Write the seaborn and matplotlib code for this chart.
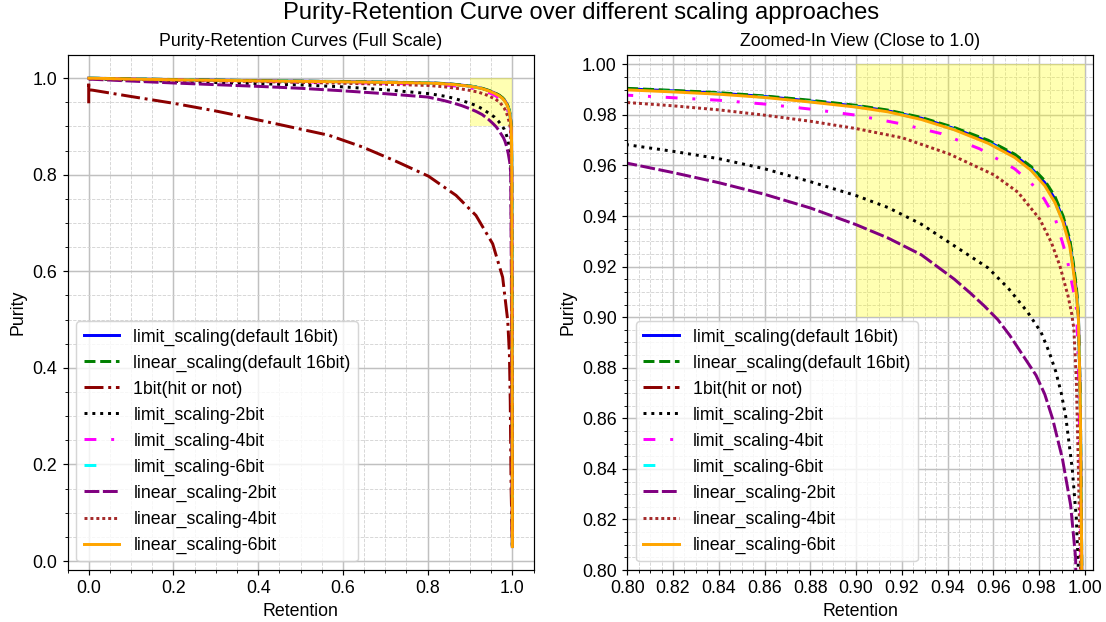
import matplotlib
matplotlib.use("Agg")
import matplotlib.pyplot as plt
import seaborn as sns
import pandas as pd

plt.rcParams['font.family'] = ['Liberation Sans', 'DejaVu Sans']

# ---------------- data ----------------
series_names = [
    "limit_scaling(default 16bit)",
    "linear_scaling(default 16bit)",
    "1bit(hit or not)",
    "limit_scaling-2bit",
    "limit_scaling-4bit",
    "limit_scaling-6bit",
    "linear_scaling-2bit",
    "linear_scaling-4bit",
    "linear_scaling-6bit",
]

ret_16bit = [0.0, 0.1, 0.2, 0.3, 0.4, 0.5, 0.6, 0.7, 0.8, 0.82, 0.84, 0.86, 0.88, 0.9,
             0.914, 0.9285, 0.943, 0.9577, 0.9693, 0.9766, 0.9825, 0.9869, 0.9905,
             0.9934, 0.9949, 0.9964, 0.9972, 0.998, 0.9987, 0.9993, 0.9997, 1.0]
pur_linear16 = [1.0, 0.9986, 0.9972, 0.9960, 0.9949, 0.9939, 0.9929, 0.9918, 0.9905,
                0.9897, 0.9888, 0.9875, 0.9858, 0.9838, 0.9819, 0.9790, 0.9750, 0.9700,
                0.9645, 0.9595, 0.9540, 0.9478, 0.9400, 0.9310, 0.9220, 0.9110, 0.9010,
                0.8700, 0.8000, 0.5000, 0.2000, 0.0300]
pur_limit16 = [1.0, 0.9984, 0.9970, 0.9958, 0.9947, 0.9937, 0.9927, 0.9916, 0.9903,
               0.9895, 0.9886, 0.9873, 0.9855, 0.9835, 0.9816, 0.9787, 0.9746, 0.9695,
               0.9640, 0.9589, 0.9532, 0.9468, 0.9389, 0.9297, 0.9206, 0.9098, 0.9002,
               0.8690, 0.7990, 0.5000, 0.2000, 0.0300]
pur_linear6 = [1.0, 0.9982, 0.9967, 0.9955, 0.9944, 0.9934, 0.9924, 0.9912, 0.9899,
               0.9891, 0.9882, 0.9869, 0.9851, 0.9831, 0.9812, 0.9782, 0.9741, 0.9688,
               0.9632, 0.9580, 0.9520, 0.9454, 0.9375, 0.9282, 0.9190, 0.9084, 0.8995,
               0.8680, 0.7980, 0.5000, 0.2000, 0.0300]
pur_limit6 = [1.0, 0.9983, 0.9968, 0.9956, 0.9945, 0.9935, 0.9925, 0.9913, 0.9900,
              0.9892, 0.9883, 0.9870, 0.9852, 0.9832, 0.9813, 0.9783, 0.9742, 0.9690,
              0.9634, 0.9582, 0.9522, 0.9456, 0.9378, 0.9285, 0.9193, 0.9087, 0.8998,
              0.8685, 0.7985, 0.5000, 0.2000, 0.0300]

ret_limit4 = [0.0, 0.1, 0.2, 0.3, 0.4, 0.5, 0.6, 0.7, 0.8, 0.82, 0.84, 0.86, 0.88, 0.9,
              0.919, 0.9372, 0.954, 0.9693, 0.9766, 0.9822, 0.9869, 0.992, 0.9949,
              0.9964, 0.9972, 0.998, 0.9987, 0.9993, 0.9997, 1.0]
pur_limit4 = [0.9995, 0.998, 0.9965, 0.995, 0.9937, 0.9923, 0.9909, 0.9894, 0.9878,
              0.9868, 0.9858, 0.9843, 0.9823, 0.9799, 0.9766, 0.9726, 0.9666, 0.9587,
              0.953, 0.9468, 0.9395, 0.9242, 0.911, 0.903, 0.88, 0.84, 0.75, 0.5, 0.2, 0.03]

ret_linear4 = [0.0, 0.1, 0.2, 0.3, 0.4, 0.5, 0.6, 0.7, 0.8, 0.82, 0.84, 0.86, 0.88, 0.9,
               0.9204, 0.9406, 0.9603, 0.9708, 0.9803, 0.9854, 0.9891, 0.9927, 0.9942,
               0.9952, 0.9963, 0.9971, 0.9977, 0.9981, 0.9988, 0.9994, 1.0]
pur_linear4 = [0.999, 0.9975, 0.996, 0.9945, 0.993, 0.9913, 0.9895, 0.9873, 0.9849,
               0.9836, 0.9820, 0.9799, 0.9775, 0.9746, 0.9709, 0.9646, 0.9563, 0.9494,
               0.9388, 0.9295, 0.9203, 0.9083, 0.9017, 0.8955, 0.875, 0.8441, 0.8178,
               0.8007, 0.6, 0.3, 0.03]

ret_limit2 = [0.0, 0.1, 0.2, 0.3, 0.4, 0.5, 0.6, 0.7, 0.8, 0.82, 0.84, 0.86, 0.88, 0.9,
              0.9139, 0.9285, 0.943, 0.9577, 0.9665, 0.975, 0.9809, 0.9845, 0.9873,
              0.9897, 0.9917, 0.9945, 0.9963, 0.9971, 0.9982, 0.999, 1.0]
pur_limit2 = [0.999, 0.996, 0.9935, 0.991, 0.9885, 0.986, 0.982, 0.976, 0.9682, 0.9656,
              0.9627, 0.9587, 0.9536, 0.9481, 0.9434, 0.9368, 0.9282, 0.9195, 0.9115,
              0.902, 0.894, 0.886, 0.8785, 0.870, 0.8605, 0.8401, 0.8204, 0.802, 0.6,
              0.3, 0.03]

ret_linear2 = [0.0, 0.1, 0.2, 0.3, 0.4, 0.5, 0.6, 0.7, 0.8, 0.82, 0.84, 0.86, 0.88, 0.9,
               0.914, 0.9285, 0.943, 0.95, 0.956, 0.962, 0.9672, 0.9787, 0.9825, 0.9859,
               0.9902, 0.9938, 0.996, 0.9975, 0.9988, 1.0]
pur_linear2 = [0.998, 0.994, 0.990, 0.9865, 0.983, 0.979, 0.9738, 0.9678, 0.9609, 0.9572,
               0.9532, 0.9486, 0.9432, 0.9366, 0.9313, 0.9247, 0.915, 0.9095, 0.9045,
               0.899, 0.8928, 0.877, 0.8695, 0.8599, 0.8441, 0.8257, 0.8046, 0.6, 0.3,
               0.03]

ret_1bit = [0.0, 0.0, 0.0, 0.01, 0.1, 0.2, 0.3, 0.355, 0.45, 0.567, 0.646, 0.725, 0.802,
            0.867, 0.914, 0.9535, 0.977, 0.989, 0.993, 0.995, 0.997, 1.0]
pur_1bit = [0.948, 0.993, 0.976, 0.975, 0.962, 0.948, 0.932, 0.922, 0.904, 0.8817,
            0.8575, 0.828, 0.797, 0.7573, 0.7158, 0.657, 0.5878, 0.498, 0.429, 0.33,
            0.15, 0.03]

series_x = [ret_16bit, ret_16bit, ret_1bit, ret_limit2, ret_limit4, ret_16bit,
            ret_linear2, ret_linear4, ret_16bit]
series_y = [pur_limit16, pur_linear16, pur_1bit, pur_limit2, pur_limit4, pur_limit6,
            pur_linear2, pur_linear4, pur_linear6]

colors = ["blue", "green", "darkred", "black", "magenta", "cyan", "purple", "brown", "orange"]
styles = ["-", "--", "-.", ":", (0, (4, 5, 1, 5)), (0, (4, 12)), (0, (5, 1.2)),
          (0, (1, 1)), "-"]

zoom_box = (0.9, 1.0, 0.9, 1.0)

# ---------------- figure ----------------
scale = 1.067
fig, (ax1, ax2) = plt.subplots(1, 2, figsize=(11.07 / scale, 6.22 / scale),
                               dpi=100 * scale)
fig.subplots_adjust(left=0.061, right=0.9876, bottom=0.0836, top=0.912, wspace=0.201)

for ax in (ax1, ax2):
    for name, xs, ys, c, ls in zip(series_names, series_x, series_y, colors, styles):
        df = pd.DataFrame({"Retention": xs, "Purity": ys})
        sns.lineplot(data=df, x="Retention", y="Purity", ax=ax, color=c,
                     linestyle=ls, linewidth=2, label=name, sort=False,
                     estimator=None)
    x0, x1, y0, y1 = zoom_box
    ax.fill_between([x0, x1], y0, y1, color="yellow", alpha=0.3, linewidth=0, zorder=1)
    ax.set_axisbelow(True)
    ax.minorticks_on()
    ax.grid(which="major", linestyle="-", linewidth=1.0, color="#c0c0c0")
    ax.grid(which="minor", linestyle="--", linewidth=0.6, color="#d4d4d4")
    ax.set_xlabel("Retention", fontsize=12)
    ax.set_ylabel("Purity", fontsize=12)
    ax.tick_params(labelsize=12)
    ax.legend(loc="lower left", fontsize=12)

ax1.set_title("Purity-Retention Curves (Full Scale)", fontsize=12)
ax2.set_title("Zoomed-In View (Close to 1.0)", fontsize=12)

ax2.set_xlim(0.8, 1.0037)
ax2.set_ylim(0.8, 1.0038)
ax2.xaxis.set_major_locator(matplotlib.ticker.MultipleLocator(0.02))
ax2.yaxis.set_major_locator(matplotlib.ticker.MultipleLocator(0.02))
ax2.xaxis.set_major_formatter(matplotlib.ticker.FormatStrFormatter("%.2f"))
ax2.yaxis.set_major_formatter(matplotlib.ticker.FormatStrFormatter("%.2f"))
ax2.xaxis.set_minor_locator(matplotlib.ticker.AutoMinorLocator(4))
ax2.yaxis.set_minor_locator(matplotlib.ticker.AutoMinorLocator(4))

fig.suptitle("Purity-Retention Curve over different scaling approaches", fontsize=16,
             x=0.525, y=0.997, va="top")

fig.savefig("out.png", dpi=100 * scale)
